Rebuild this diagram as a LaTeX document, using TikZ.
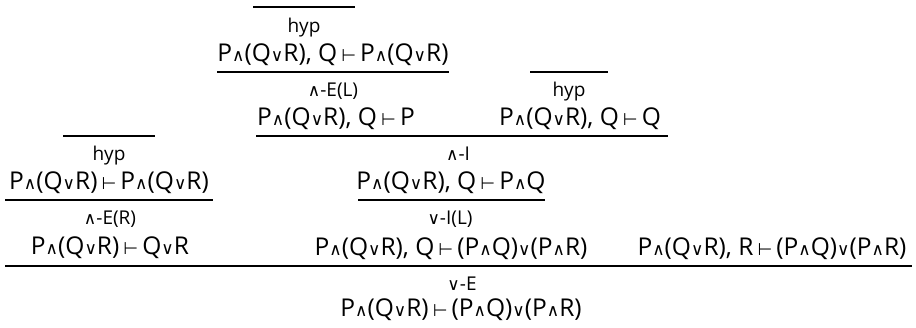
\documentclass[tikz,border=0pt]{standalone}
\usepackage{fontspec}
\usepackage{graphicx}
\setmainfont{Open Sans}
\newfontfamily\symfont{DejaVu Sans}
\usepackage{tikz}
\newcommand{\conj}{{\symfont\fontsize{17}{17}\selectfont ∧}}
\newcommand{\disj}{{\symfont\fontsize{17}{17}\selectfont ∨}}
\newcommand{\turn}{\,{\symfont\fontsize{17}{17}\selectfont ⊢}\,}
\newcommand{\PQR}{P\conj(Q\disj R)}
\newcommand{\PQPR}{(P\conj Q)\disj(P\conj R)}

\begin{document}
\begin{tikzpicture}[x=1pt, y=-1pt,
    seq/.style={anchor=base, inner sep=0pt, font=\fontsize{24.5}{28}\selectfont},
    rulelbl/.style={anchor=base, inner sep=0pt, font=\fontsize{19}{21}\selectfont},
    infer/.style={line width=2.6pt}]
    \useasboundingbox (0,0) rectangle (916,328);

    % Left branch: P and (Q or R) gives Q or R
    \coordinate (lh1) at (63,136);  \coordinate (lh2) at (155,136);
    \draw[infer] (lh1) -- (lh2);
    \node[rulelbl] (lhyp) at (109,161) {hyp};
    \node[seq] (f6) at (109,190) {\PQR\turn\PQR};
    \coordinate (l1) at (5,200);  \coordinate (l2) at (213,200);
    \draw[infer] (l1) -- (l2);
    \node[rulelbl] (lbl6) at (110,225) {\conj-E(R)};
    \node[seq] (f7) at (110,255) {\PQR\turn Q\disj R};

    % Middle branch: first premise by and-elimination
    \coordinate (th1) at (253,7);  \coordinate (th2) at (355,7);
    \draw[infer] (th1) -- (th2);
    \node[rulelbl] (thyp) at (304,33) {hyp};
    \node[seq] (f1) at (333,62) {\PQR, Q\turn\PQR};
    \coordinate (t1) at (217,72);  \coordinate (t2) at (449,72);
    \draw[infer] (t1) -- (t2);
    \node[rulelbl] (lbl1) at (333,97) {\conj-E(L)};
    \node[seq] (f2) at (336,126) {\PQR, Q\turn P};

    % Middle branch: second premise
    \coordinate (rh1) at (530,72);  \coordinate (rh2) at (608,72);
    \draw[infer] (rh1) -- (rh2);
    \node[rulelbl] (rhyp) at (569,97) {hyp};
    \node[seq] (f3) at (580,126) {\PQR, Q\turn Q};

    % and-introduction, then or-introduction
    \coordinate (m1) at (256,136);  \coordinate (m2) at (668,136);
    \draw[infer] (m1) -- (m2);
    \node[rulelbl] (lbl2) at (458,161) {\conj-I};
    \node[seq] (f4) at (451,190) {\PQR, Q\turn P\conj Q};
    \coordinate (n1) at (358,200);  \coordinate (n2) at (545,200);
    \draw[infer] (n1) -- (n2);
    \node[rulelbl] (lbl3) at (450,225) {\disj-I(L)};
    \node[seq] (f5) at (451,256) {\PQR, Q\turn\PQPR};

    % Right premise
    \node[seq] (f8) at (772,256) {\PQR, R\turn\PQPR};

    % or-elimination
    \coordinate (b1) at (5,266);  \coordinate (b2) at (912,266);
    \draw[infer] (b1) -- (b2);
    \node[rulelbl] (lbl4) at (462,291) {\disj-E};
    \node[seq] (f9) at (461,317) {\PQR\turn\PQPR};
\end{tikzpicture}
\end{document}
